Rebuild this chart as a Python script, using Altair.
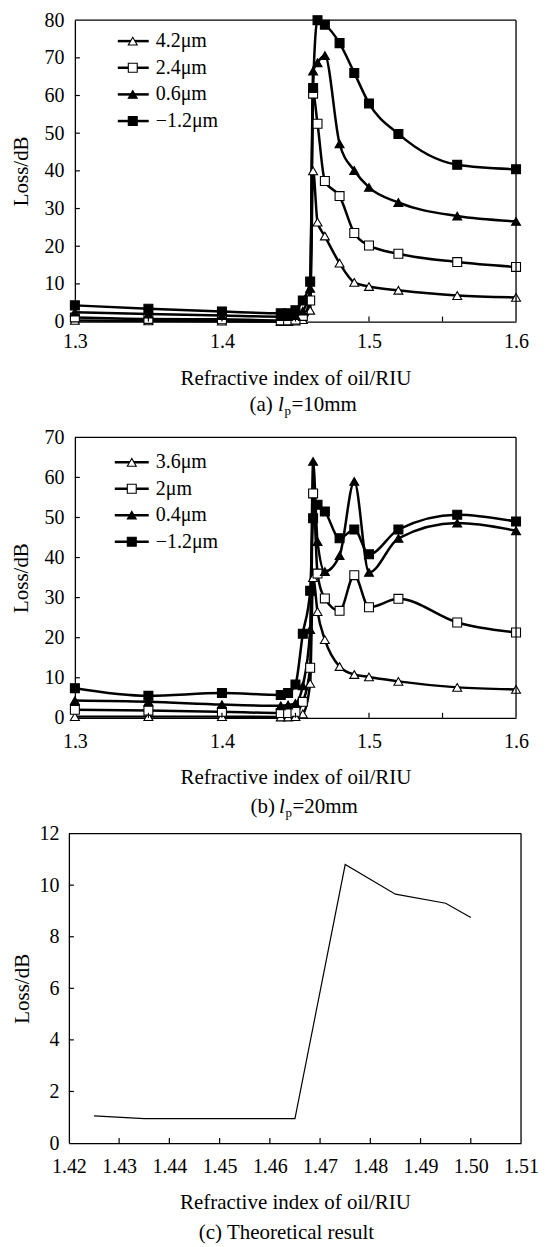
import altair as alt
import pandas as pd

FONT = "Liberation Serif"

# ---------------- data ----------------
# (a) lp = 10 mm
A_X = [1.30, 1.35, 1.40, 1.44, 1.445, 1.45, 1.455, 1.46, 1.462, 1.465, 1.47, 1.48, 1.49, 1.50, 1.52, 1.56, 1.60]
A_SERIES = ["4.2μm", "2.4μm", "0.6μm", "−1.2μm"]
A_42 = [0.3, 0.2, 0.1, 0.0, 0.0, 0.1, 0.5, 3.0, 40.0, 26.4, 22.7, 15.5, 10.4, 9.3, 8.3, 6.9, 6.4]
A_24 = [1.1, 0.7, 0.6, 0.3, 0.3, 0.5, 1.5, 5.6, 60.5, 52.5, 37.3, 33.3, 23.5, 20.2, 18.0, 15.8, 14.5]
A_06 = [2.5, 2.0, 1.6, 1.3, 1.3, 1.6, 2.8, 8.8, 66.5, 68.7, 70.6, 47.2, 40.1, 35.6, 31.6, 28.0, 26.6]
A_M12 = [4.3, 3.4, 2.7, 2.2, 2.2, 3.0, 5.6, 10.6, 62.0, 80.0, 78.8, 73.9, 66.0, 57.9, 49.8, 41.6, 40.4]

# (b) lp = 20 mm
B_X = [1.30, 1.35, 1.40, 1.44, 1.445, 1.45, 1.455, 1.46, 1.462, 1.465, 1.47, 1.48, 1.49, 1.50, 1.52, 1.56, 1.60]
B_SERIES = ["3.6μm", "2μm", "0.4μm", "−1.2μm"]
B_36 = [0.3, 0.3, 0.3, 0.2, 0.2, 0.3, 1.0, 8.6, 35.0, 26.5, 19.5, 12.8, 10.8, 10.2, 9.1, 7.6, 7.1]
B_2 = [2.0, 1.8, 1.5, 1.2, 1.2, 1.5, 4.0, 12.5, 56.0, 36.0, 29.8, 26.7, 35.6, 27.6, 29.7, 23.8, 21.3]
B_04 = [4.3, 4.0, 3.3, 3.0, 3.2, 3.6, 8.0, 22.0, 64.0, 44.0, 36.5, 40.5, 59.0, 36.3, 44.8, 48.6, 46.7]
B_M12 = [7.4, 5.5, 6.2, 5.7, 6.2, 8.3, 21.0, 31.7, 49.8, 53.2, 51.5, 44.8, 47.0, 40.8, 47.0, 50.7, 49.0]

# (c) theoretical result
C_X = [1.425, 1.435, 1.445, 1.455, 1.465, 1.475, 1.485, 1.495, 1.50]
C_Y = [1.05, 0.95, 0.95, 0.95, 0.95, 10.8, 9.65, 9.3, 8.75]

AB_XLABELS = [1.3, 1.4, 1.5, 1.6]
AB_XTICKS = [1.35, 1.4, 1.45, 1.5, 1.55]
A_YLABELS = [0, 10, 20, 30, 40, 50, 60, 70, 80]
B_YLABELS = [0, 10, 20, 30, 40, 50, 60, 70]
C_XLABELS = [1.42, 1.43, 1.44, 1.45, 1.46, 1.47, 1.48, 1.49, 1.50, 1.51]
C_YLABELS = [0, 2, 4, 6, 8, 10, 12]

SHAPES = ["triangle-up", "square", "triangle-up", "square"]
FILLS = ["white", "white", "black", "black"]

DUMMY = alt.Data(values=[{}])


def long_df(xs, series, cols):
    rows = []
    for name, vals in zip(series, cols):
        for x, v in zip(xs, vals):
            rows.append({"x": x, "v": v, "s": name})
    return pd.DataFrame(rows)


def frame(left, right, height):
    top = alt.Chart(DUMMY).mark_rule(color="black", strokeWidth=1.3).encode(
        x=alt.value(left), x2=alt.value(right), y=alt.value(0))
    rgt = alt.Chart(DUMMY).mark_rule(color="black", strokeWidth=1.3).encode(
        x=alt.value(right), y=alt.value(0), y2=alt.value(height))
    return [top, rgt]


def inner_ticks(xticks, yticks, xs, ys, xaxis, yaxis, height, left):
    xt = alt.Chart(pd.DataFrame({"x": xticks})).mark_rule(color="black", strokeWidth=1.2).encode(
        x=alt.X("x:Q", scale=xs, axis=xaxis), y=alt.value(height), y2=alt.value(height - 5))
    yt = alt.Chart(pd.DataFrame({"v": yticks})).mark_rule(color="black", strokeWidth=1.2).encode(
        y=alt.Y("v:Q", scale=ys, axis=yaxis), x=alt.value(left), x2=alt.value(left + 5))
    return [xt, yt]


def legend(series, lx0, lx1, mx, tx, y0, dy):
    layers = []
    for i, s in enumerate(series):
        y = y0 + i * dy
        layers.append(alt.Chart(DUMMY).mark_rule(color="black", strokeWidth=2.5).encode(
            x=alt.value(lx0), x2=alt.value(lx1), y=alt.value(y)))
        layers.append(alt.Chart(DUMMY).mark_point(
            shape=SHAPES[i], filled=True, fill=FILLS[i], stroke="black", strokeWidth=1.1,
            size=80, opacity=1).encode(x=alt.value(mx), y=alt.value(y)))
        layers.append(alt.Chart(DUMMY).mark_text(
            align="left", baseline="middle", font=FONT, fontSize=20, color="black").encode(
            x=alt.value(tx), y=alt.value(y), text=alt.value(s)))
    return layers


def caption_lp(letter, val, x0, y):
    pieces = [
        (f"({letter})", 0, 0, 21, "normal"),
        ("l", 28.6, 0, 21, "italic"),
        ("p", 35.0, 6, 13, "normal"),
        (f"={val}mm", 42.0, 0, 21, "normal"),
    ]
    out = []
    for txt, dx, ddy, fs, style in pieces:
        out.append(alt.Chart(DUMMY).mark_text(
            align="left", baseline="middle", font=FONT, fontSize=fs, fontStyle=style,
            color="black").encode(x=alt.value(x0 + dx), y=alt.value(y + ddy), text=alt.value(txt)))
    return out


def exp_panel(df, series, width, height, ydom, ylabels, yticks, lab_pad, tit_pad, leg, cap):
    xs = alt.Scale(domain=[1.3, 1.6], nice=False, zero=False)
    ys = alt.Scale(domain=ydom, nice=False)
    xaxis = alt.Axis(values=AB_XLABELS, format=".1f", title="Refractive index of oil/RIU",
                     labelPadding=lab_pad, titlePadding=tit_pad)
    yaxis = alt.Axis(values=ylabels, format="d", title="Loss/dB", labelPadding=11, titlePadding=12)
    line = alt.Chart(df).mark_line(interpolate="monotone", color="black", strokeWidth=2.5).encode(
        x=alt.X("x:Q", scale=xs, axis=xaxis),
        y=alt.Y("v:Q", scale=ys, axis=yaxis),
        detail="s:N")
    pts = alt.Chart(df).mark_point(filled=True, stroke="black", strokeWidth=1.1, size=80, opacity=1).encode(
        x=alt.X("x:Q", scale=xs, axis=xaxis),
        y=alt.Y("v:Q", scale=ys, axis=yaxis),
        shape=alt.Shape("s:N", scale=alt.Scale(domain=series, range=SHAPES), legend=None),
        fill=alt.Fill("s:N", scale=alt.Scale(domain=series, range=FILLS), legend=None))
    layers = ([line, pts] + inner_ticks(AB_XTICKS, yticks, xs, ys, xaxis, yaxis, height, 0)
              + frame(0, width, height) + leg + cap)
    return alt.layer(*layers).properties(width=width, height=height)


df_a = long_df(A_X, A_SERIES, [A_42, A_24, A_06, A_M12])
df_b = long_df(B_X, B_SERIES, [B_36, B_2, B_04, B_M12])

WA, HA = 442, 302
WB, HB = 442, 281

panel_a = exp_panel(
    df_a, A_SERIES, WA, HA, [0, 80], A_YLABELS, A_YLABELS[1:-1], 10, 16,
    legend(A_SERIES, 43, 74, 58, 81, 21, 26.7),
    caption_lp("a", 10, 175, 386))

panel_b = exp_panel(
    df_b, B_SERIES, WB, HB, [0, 70], B_YLABELS, B_YLABELS[1:-1], 14, 15,
    legend(B_SERIES, 40, 74, 57, 81, 25, 26.5),
    caption_lp("b", 20, 176, 370))

# panel c
WC, HC = 447, 310
SHIFT = 6
xs_c = alt.Scale(domain=[1.42, 1.51], nice=False, zero=False, range=[-SHIFT, WC])
ys_c = alt.Scale(domain=[0, 12], nice=False)
xaxis_c = alt.Axis(values=C_XLABELS, format=".2f", title="Refractive index of oil/RIU",
                   labelPadding=14, titlePadding=15)
yaxis_c = alt.Axis(values=C_YLABELS, format="d", title="Loss/dB",
                   offset=SHIFT, labelPadding=10, titlePadding=6)
df_c = pd.DataFrame({"x": C_X, "v": C_Y})
line_c = alt.Chart(df_c).mark_line(color="black", strokeWidth=1.2).encode(
    x=alt.X("x:Q", scale=xs_c, axis=xaxis_c),
    y=alt.Y("v:Q", scale=ys_c, axis=yaxis_c))
cap_c = alt.Chart(DUMMY).mark_text(align="center", baseline="middle", font=FONT, fontSize=21,
                                   color="black").encode(
    x=alt.value(212), y=alt.value(HC + 90), text=alt.value("(c) Theoretical result"))
panel_c = alt.layer(
    line_c,
    *inner_ticks(C_XLABELS[1:-1], C_YLABELS[1:-1], xs_c, ys_c, xaxis_c, yaxis_c, HC, -SHIFT),
    *frame(-SHIFT, WC, HC),
    cap_c,
).properties(width=WC, height=HC)

chart = alt.vconcat(panel_a, panel_b, panel_c, spacing=116, bounds="flush").properties(
    padding={"left": 3, "top": 1, "right": 0, "bottom": 0}
).configure_view(strokeWidth=0).configure_axis(
    domainColor="black", domainWidth=1.3, ticks=False, tickSize=0, grid=False,
    labelFont=FONT, labelFontSize=20, labelColor="black", labelFlush=False, labelOverlap=False,
    labelBound=False,
    titleFont=FONT, titleFontSize=21, titleFontWeight="normal", titleColor="black",
)

chart.save("out.html", embed_options={"renderer": "svg", "actions": False})
